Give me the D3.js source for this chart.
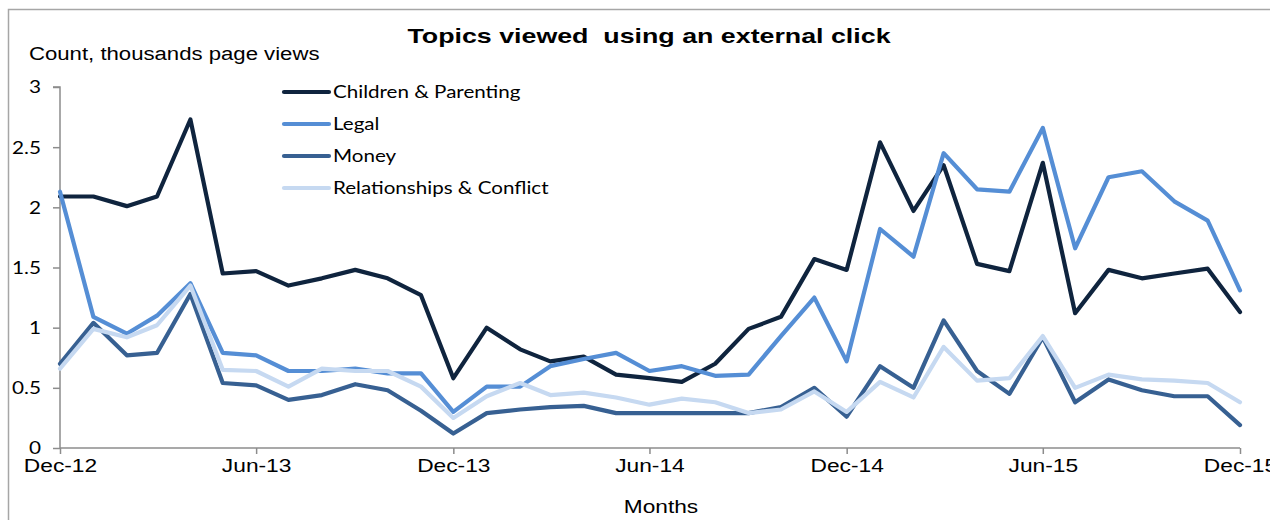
<!DOCTYPE html>
<html>
<head>
<meta charset="utf-8">
<script src="https://cdn.jsdelivr.net/npm/d3@7"></script>
<style>
  html, body { margin: 0; padding: 0; background: #fff; }
  svg { display: block; }
</style>
</head>
<body>
<svg id="chart" width="1270" height="520"></svg>
<script>
// Monthly page views (thousands), Dec 2012 – Dec 2015
const months = d3.range(37).map(i => new Date(2012, 11 + i, 1));
const tickLabels = ["Dec-12", "Jun-13", "Dec-13", "Jun-14", "Dec-14", "Jun-15", "Dec-15"];
const yTicks = [0, 0.5, 1, 1.5, 2, 2.5, 3];

const seriesNames = ["Children & Parenting", "Legal", "Money", "Relationships & Conflict"];
const childrenParenting = [2.09,2.09,2.01,2.09,2.73,1.45,1.47,1.35,1.41,1.48,1.41,1.27,0.58,1.00,0.82,0.72,0.76,0.61,0.58,0.55,0.70,0.99,1.09,1.57,1.48,2.54,1.97,2.35,1.53,1.47,2.37,1.12,1.48,1.41,1.45,1.49,1.13];
const legal = [2.13,1.09,0.95,1.10,1.37,0.79,0.77,0.64,0.64,0.66,0.62,0.62,0.30,0.51,0.51,0.68,0.74,0.79,0.64,0.68,0.60,0.61,0.93,1.25,0.72,1.82,1.59,2.45,2.15,2.13,2.66,1.66,2.25,2.30,2.05,1.89,1.31];
const money = [0.70,1.04,0.77,0.79,1.28,0.54,0.52,0.40,0.44,0.53,0.48,0.31,0.12,0.29,0.32,0.34,0.35,0.29,0.29,0.29,0.29,0.29,0.34,0.50,0.26,0.68,0.50,1.06,0.64,0.45,0.92,0.38,0.57,0.48,0.43,0.43,0.19];
const relationships = [0.66,0.99,0.92,1.02,1.35,0.65,0.64,0.51,0.66,0.64,0.64,0.51,0.25,0.43,0.54,0.44,0.46,0.42,0.36,0.41,0.38,0.29,0.32,0.47,0.30,0.55,0.42,0.84,0.56,0.58,0.93,0.50,0.61,0.57,0.56,0.54,0.38];
const seriesColors = ["#0F243E", "#558ED5", "#376092", "#C6D9F1"];

const series = [childrenParenting, legal, money, relationships].map((vals, k) => ({
  name: seriesNames[k], color: seriesColors[k], values: vals
}));

const svg = d3.select("#chart");
const margin = { left: 60, right: 30, top: 87, bottom: 72 };
const W = 1270, H = 520;

// widen glyphs horizontally while keeping their height
function widen(sel, factor) {
  sel.each(function () {
    const w = this.getComputedTextLength();
    d3.select(this).attr("textLength", w * factor).attr("lengthAdjust", "spacingAndGlyphs");
  });
}

// outer frame
svg.append("rect")
  .attr("x", 8.5).attr("y", 9.5).attr("width", 1300).attr("height", 600)
  .attr("fill", "none").attr("stroke", "#A6A6A6").attr("stroke-width", 1.5);

const x = d3.scaleTime()
  .domain([months[0], months[36]])
  .range([margin.left, W - margin.right]);
const y = d3.scaleLinear()
  .domain([0, 3])
  .range([H - margin.bottom, margin.top]);

const fontCal = "Lato, 'Open Sans', sans-serif";
const fontArial = "'Liberation Sans', Arial, sans-serif";

// y axis
const yAxis = svg.append("g")
  .attr("transform", `translate(${margin.left},0)`)
  .call(d3.axisLeft(y).tickValues(yTicks).tickSize(7).tickPadding(12)
    .tickFormat(d => d3.format("")(d)));
yAxis.selectAll("path, line").attr("stroke", "#8C8C8C").attr("stroke-width", 1.5);
yAxis.select(".domain").attr("d", `M-7,${y(3)}H0V${y(0)}`);
yAxis.selectAll("text").attr("font-family", fontCal).attr("font-size", 17).attr("fill", "#000")
  .attr("dy", "0.35em").call(widen, 1.22);

// x axis, tick every six months
const xTickDates = d3.range(0, 37, 6).map(i => months[i]);
const xAxis = svg.append("g")
  .attr("transform", `translate(0,${y(0)})`)
  .call(d3.axisBottom(x).tickValues(xTickDates).tickSize(6).tickPadding(6)
    .tickFormat((d, i) => tickLabels[i]));
xAxis.selectAll("path, line").attr("stroke", "#8C8C8C").attr("stroke-width", 1.5);
xAxis.select(".domain").attr("d", `M${x.range()[0]},0H${x.range()[1]}`);
xAxis.selectAll("text").attr("font-family", fontArial).attr("font-size", 17.5).attr("fill", "#000")
  .call(widen, 1.3);

// series lines
const line = d3.line()
  .x((d, i) => x(months[i]))
  .y(d => y(d));
svg.append("g").selectAll("path")
  .data(series)
  .join("path")
  .attr("d", d => line(d.values))
  .attr("fill", "none")
  .attr("stroke", d => d.color)
  .attr("stroke-width", 4.2)
  .attr("stroke-linejoin", "round")
  .attr("stroke-linecap", "round");

// legend
const legend = svg.append("g").attr("transform", "translate(284,92)");
const item = legend.selectAll("g")
  .data(series)
  .join("g")
  .attr("transform", (d, i) => `translate(0,${i * 32})`);
item.append("line")
  .attr("x1", 0).attr("x2", 45).attr("y1", 0).attr("y2", 0)
  .attr("stroke", d => d.color).attr("stroke-width", 4.2).attr("stroke-linecap", "round");
item.append("text")
  .attr("x", 49).attr("y", 0).attr("dy", "0.35em")
  .attr("font-family", fontCal).attr("font-size", 17).attr("fill", "#000")
  .text(d => d.name)
  .call(widen, 1.21);

// titles
svg.append("text")
  .attr("x", 649).attr("y", 43).attr("text-anchor", "middle")
  .attr("font-family", fontArial).attr("font-weight", "bold").attr("font-size", 21)
  .attr("xml:space", "preserve").style("white-space", "pre")
  .text("Topics viewed  using an external click")
  .call(widen, 1.275);
svg.append("text")
  .attr("x", 29).attr("y", 60)
  .attr("font-family", fontArial).attr("font-size", 18)
  .text("Count, thousands page views")
  .call(widen, 1.23);
svg.append("text")
  .attr("x", 661).attr("y", 513).attr("text-anchor", "middle")
  .attr("font-family", fontArial).attr("font-size", 18)
  .text("Months")
  .call(widen, 1.26);
</script>
</body>
</html>
